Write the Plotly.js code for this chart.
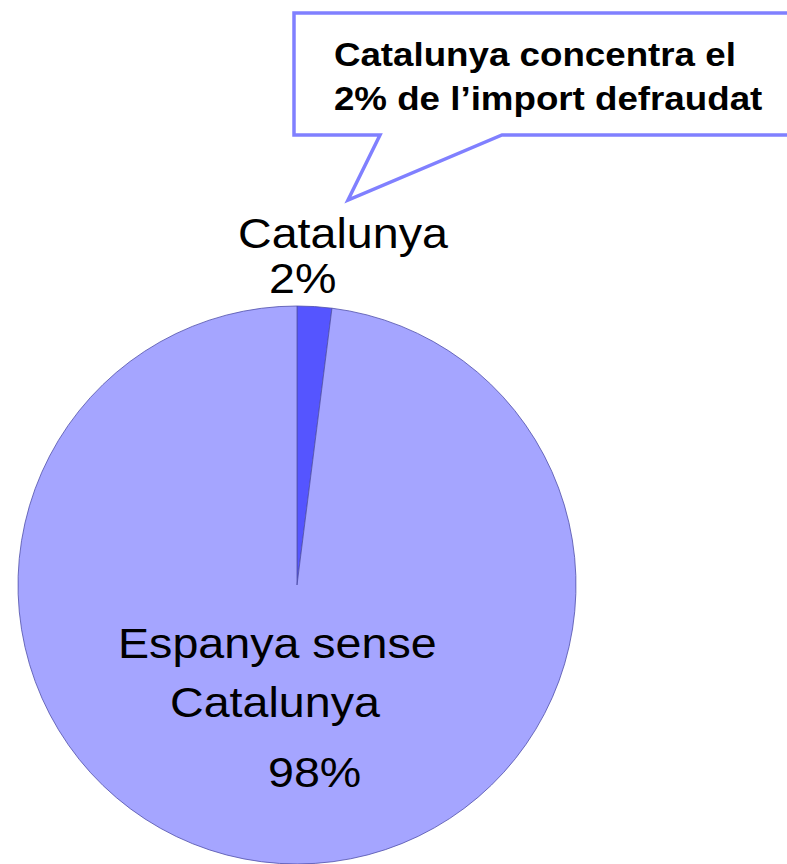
<!DOCTYPE html>
<html>
<head>
<meta charset="utf-8">
<script src="https://cdn.plot.ly/plotly-3.0.1.min.js"></script>
<style>
  html, body { margin: 0; padding: 0; background: #ffffff; }
  #chart { width: 787px; height: 864px; }
  .annotation-text { transform: scaleX(1.11); transform-box: fill-box; transform-origin: center; }
</style>
</head>
<body>
<div id="chart"></div>
<script>
// Data
const labels = ['Catalunya', 'Espanya sense Catalunya'];
const values = [2, 98];
const sliceColors = ['#5555ff', '#a5a5ff'];
const labelLines = [['Catalunya', '2%'], ['Espanya sense', 'Catalunya', '98%']];
const calloutText = 'Catalunya concentra el<br>2% de l’import defraudat';

const W = 787, H = 864;
const px = x => x / W;
const py = y => 1 - y / H;

const trace = {
  type: 'pie',
  labels: labels,
  values: values,
  sort: false,
  direction: 'clockwise',
  rotation: 0,
  textinfo: 'none',
  hoverinfo: 'label+percent',
  showlegend: false,
  marker: { colors: sliceColors, line: { color: 'rgba(80,80,170,0.8)', width: 1 } },
  domain: { x: [px(18), px(576)], y: [py(864), py(306)] }
};

function pt(x, y) { return px(x).toFixed(5) + ',' + py(y).toFixed(5); }
const calloutPath = 'M' + pt(294, 13) + ' L' + pt(800, 13) + ' L' + pt(800, 135) +
  ' L' + pt(502, 135) + ' L' + pt(348, 200) + ' L' + pt(380, 135) + ' L' + pt(294, 135) + ' Z';

const bigFont = { family: '"Liberation Sans", Arial, sans-serif', size: 42, color: '#000000' };
const ann = (text, x, y) => ({
  text: text, x: px(x), y: py(y), xref: 'paper', yref: 'paper',
  xanchor: 'center', yanchor: 'middle', showarrow: false, font: bigFont
});

const layout = {
  width: W, height: H,
  margin: { l: 0, r: 0, t: 0, b: 0 },
  paper_bgcolor: '#ffffff',
  plot_bgcolor: '#ffffff',
  shapes: [{
    type: 'path', xref: 'paper', yref: 'paper', path: calloutPath,
    fillcolor: '#ffffff', line: { color: '#8080ff', width: 3.5 }
  }],
  annotations: [
    {
      text: '<b>' + calloutText.split('<br>').join('</b><br><b>') + '</b>',
      x: px(548), y: py(76), xref: 'paper', yref: 'paper',
      xanchor: 'center', yanchor: 'middle', align: 'left', showarrow: false,
      font: { family: '"Liberation Sans", Arial, sans-serif', size: 34, color: '#000000' }
    },
    ann(labelLines[0][0], 343, 233),
    ann(labelLines[0][1], 302, 278),
    ann(labelLines[1][0], 277, 643),
    ann(labelLines[1][1], 275, 702),
    ann(labelLines[1][2], 314, 772)
  ]
};

Plotly.newPlot('chart', [trace], layout, { displayModeBar: false, staticPlot: true }).then(() => {
  const texts = document.querySelectorAll('.annotation-text');
  texts.forEach(t => {
    if (t.textContent.indexOf('concentra') >= 0) t.style.transform = 'scaleX(1.08)';
  });
});
</script>
</body>
</html>
